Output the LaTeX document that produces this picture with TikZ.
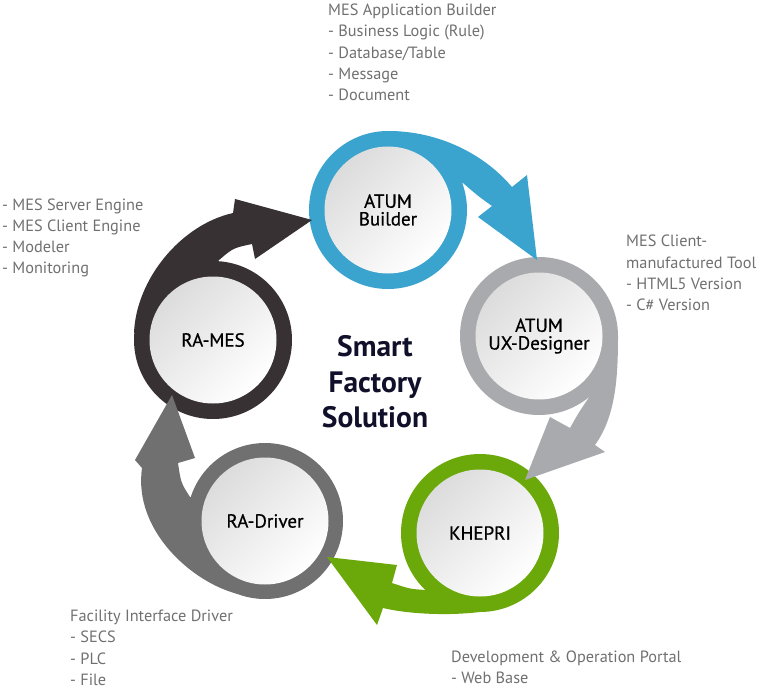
\documentclass[tikz,border=0pt]{standalone}
\usepackage{fontspec}
\setmainfont{PT Sans}
\newfontfamily\labelfont[FakeBold=0.6]{PT Sans}
\definecolor{cblue}{HTML}{3AA3CE}
\definecolor{cuxgray}{HTML}{A9AAAE}
\definecolor{cgreen}{HTML}{6BA90A}
\definecolor{cdrvgray}{HTML}{707070}
\definecolor{cdark}{HTML}{373133}
\definecolor{discA}{HTML}{DCDCDC}
\definecolor{discB}{HTML}{FFFFFF}
\definecolor{sidegray}{HTML}{707070}
\definecolor{titlenavy}{HTML}{10102A}
\begin{document}
\begin{tikzpicture}[x=1pt,y=-1pt,
  sidetext/.style={anchor=base west, inner sep=0pt, text=sidegray, font=\fontsize{16.3}{21}\selectfont},
  disc/.style={circle, inner sep=0pt, minimum size=127pt, top color=discA, bottom color=discB, shading angle=45, align=center, text=black, font=\labelfont\fontsize{19}{17.7}\selectfont},
  ringfill/.style={fill=#1},
]
\useasboundingbox (0,0) rectangle (782,690);

% circle centres
\coordinate (cB) at (388,210);
\coordinate (cU) at (539,336);
\coordinate (cK) at (480,533);
\coordinate (cD) at (265,521);
\coordinate (cM) at (213,340);

% coloured rings
\fill[ringfill=cblue] (cB) circle (79pt);
\fill[ringfill=cuxgray] (cU) circle (79pt);
\fill[ringfill=cgreen] (cK) circle (79pt);
\fill[ringfill=cdrvgray] (cD) circle (78pt);
\fill[ringfill=cdark] (cM) circle (79pt);

% curved arrows (tails of the rings)
\begin{scope}[shift={(cB)}]
  \fill[ringfill=cblue] (0,-79) .. controls (52,-79) and (97,-55) .. (124,-23)
    -- (139,-35) -- (149,50) -- (90,7) -- (104,-4)
    .. controls (90,-14) .. (75,-27) -- (0,0) -- cycle;
\end{scope}
\begin{scope}[shift={(cU)}]
  \fill[ringfill=cuxgray] (79,0) .. controls (79,40) and (77,80) .. (56,109)
    -- (66,116) -- (-14,144) -- (11,81) -- (31,92)
    .. controls (40,76) .. (53,57) -- (0,0) -- cycle;
\end{scope}
\begin{scope}[shift={(cK)}]
  \fill[ringfill=cgreen] (39,68) .. controls (13,84) and (-60,84) .. (-97,75)
    -- (-103,92) -- (-153,24) -- (-83,32) -- (-88,50)
    .. controls (-70,56) .. (-54,57) -- (0,0) -- cycle;
\end{scope}
\begin{scope}[shift={(cD)}]
  \fill[ringfill=cdrvgray] (-27,73) .. controls (-72,62) and (-132,10) .. (-123,-53)
    -- (-130,-61) -- (-93,-126) -- (-70,-63) -- (-87,-58)
    .. controls (-84,-38) .. (-75,-24) -- (0,0) -- cycle;
\end{scope}
\begin{scope}[shift={(cM)}]
  \fill[ringfill=cdark] (-79,-7) .. controls (-77,-60) and (-33,-115) .. (20,-127)
    -- (22,-141) -- (99,-120) -- (42,-81) -- (39,-96)
    .. controls (20,-92) .. (5,-79) -- (0,0) -- cycle;
\end{scope}

% white discs with labels
\node[disc] (b) at (cB) {ATUM\\Builder};
\node[disc] (u) at (cU) {ATUM\\UX-Designer};
\node[disc] (k) at (cK) {KHEPRI};
\node[disc] (d) at (cD) {RA-Driver};
\node[disc] (m) at (cM) {RA-MES};

% centre title
\node[align=center, inner sep=0pt, text=titlenavy, font=\fontsize{29.5}{35.8}\selectfont\bfseries] (title) at (375,381.7) {Smart\\Factory\\Solution};

% side descriptions
\foreach \txt [count=\i from 0] in {MES Application Builder, - Business Logic (Rule), - Database/Table, - Message, - Document}
  \node[sidetext, name=tb\i] at (328, 15.7+21.3*\i) {\txt};
\foreach \txt [count=\i from 0] in {MES Client-, manufactured Tool, - HTML5 Version, - C\# Version}
  \node[sidetext, name=tr\i] at (626, 246.7+21.4*\i) {\txt};
\foreach \txt [count=\i from 0] in {Development \& Operation Portal, - Web Base}
  \node[sidetext, name=br\i] at (451, 662.7+20.8*\i) {\txt};
\foreach \txt [count=\i from 0] in {Facility Interface Driver, - SECS, - PLC, - File}
  \node[sidetext, name=bl\i] at (70, 621.7+21.2*\i) {\txt};
\foreach \txt [count=\i from 0] in {- MES Server Engine, - MES Client Engine, - Modeler, - Monitoring}
  \node[sidetext, name=tl\i] at (2, 210+21.3*\i) {\txt};
\end{tikzpicture}
\end{document}
